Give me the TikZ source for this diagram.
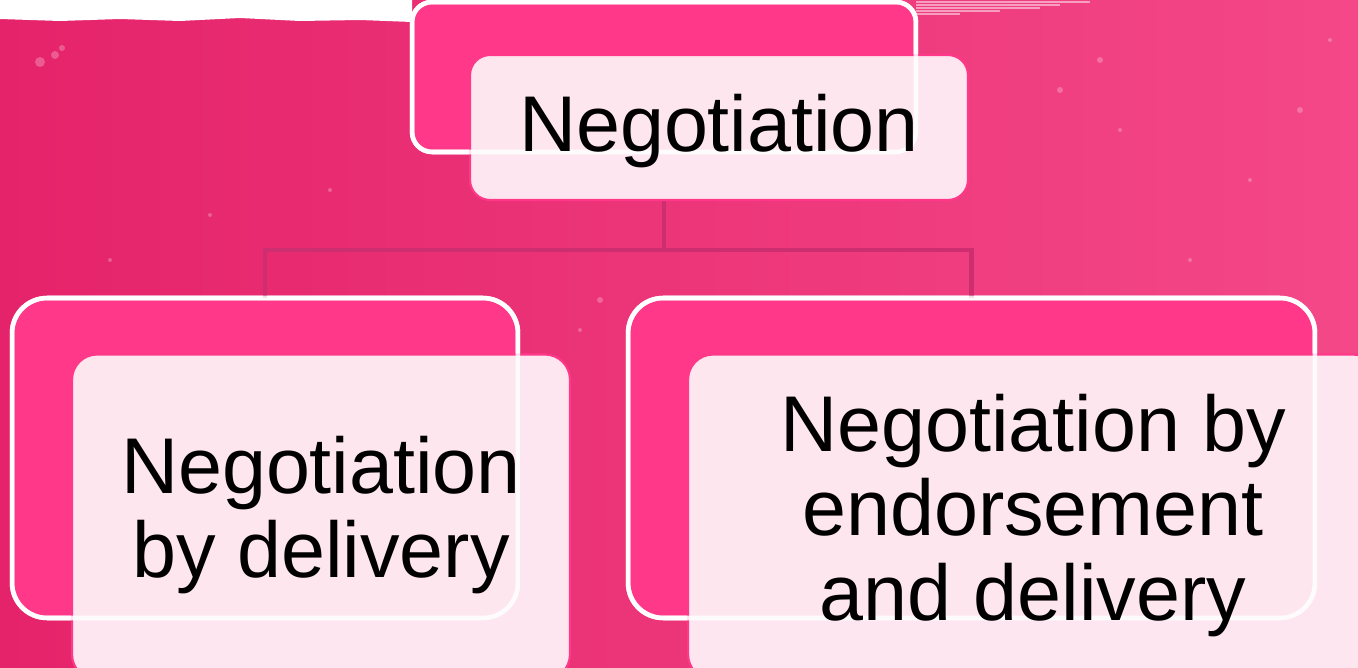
\documentclass[tikz,border=0pt]{standalone}
\usepackage{fontspec}
\setmainfont{Liberation Sans}
\usetikzlibrary{positioning}
\definecolor{bgleft}{RGB}{229, 35, 106}
\definecolor{bgright}{RGB}{244, 72, 136}
\definecolor{hotpink}{RGB}{255, 56, 137}
\definecolor{blush}{RGB}{254, 234, 242}
\definecolor{linkpink}{RGB}{204, 46, 112}
\tikzset{
  backbox/.style={draw=white, line width=2.6pt, fill=hotpink, rounded corners=0.7cm, outer sep=0pt, inner sep=0pt},
  frontbox/.style={draw=hotpink, line width=1.2pt, fill=blush, fill opacity=0.98, rounded corners=0.5cm, outer sep=0pt},
  cardtext/.style={align=center, font=\fontsize{45}{48}\selectfont},
  backline/.style={draw=white, line width=2.6pt, rounded corners=0.7cm},
  link/.style={linkpink, line width=2.4pt}
}

\begin{document}
\begin{tikzpicture}[x=0.02cm, y=-0.02cm]
    % paper background
    \shade[left color=bgleft, right color=bgright] (0,0) rectangle (1358,668);
    \useasboundingbox (0,0) rectangle (1358,668);
    \fill[white] (0,0) -- (412,0) -- (412,22) -- (360,20) -- (300,21) -- (240,18) -- (180,21) -- (120,19) -- (60,21) -- (0,19) -- cycle;
    \foreach \ty/\tx in {2/1090, 5/1060, 8/1040, 11/1000, 14/960}
        \draw[white, opacity=0.5, line width=0.9pt] (916,\ty) -- (\tx,\ty);
    \foreach \sx/\sy/\sr in {40/62/5, 55/55/4, 62/48/3, 210/215/2, 110/260/2, 330/190/2, 540/250/2, 600/300/3, 1060/90/3, 1120/130/2, 1100/60/3, 1250/180/2, 1300/110/3, 1190/260/2, 580/330/2, 1330/40/2}
        \fill[white, opacity=0.25] (\sx,\sy) circle (\sr);

    % back cards
    \node[backbox, minimum width=10.08cm, minimum height=3cm, rounded corners=0.4cm] (rootb) at (664,77) {};
    \node[backbox, minimum width=10.12cm, minimum height=6.4cm] (leftb) at (265,458) {};
    \node[backbox, minimum width=13.74cm, minimum height=6.4cm] (rightb) at (971.5,458) {};

    % tree links
    \coordinate (bus) at (664,250);
    \draw[link] (rootb.south) -- (bus);
    \draw[link] (bus) -| (leftb.north);
    \draw[link] (bus) -| (rightb.north);

    % front cards
    \node[frontbox, minimum width=9.96cm, minimum height=2.9cm, rounded corners=0.4cm] (rootf) at (719,127.5) {};
    \node[frontbox, minimum width=9.96cm, minimum height=6.5cm] (leftf) at (321,517) {};
    \node[frontbox, minimum width=13.8cm, minimum height=6.5cm] (rightf) at (1033,517) {};

    % white rims show through the front cards
    \draw[backline, rounded corners=0.4cm, opacity=0.85] (rootb.south west) rectangle (rootb.north east);
    \draw[backline, opacity=0.85] (leftb.south west) rectangle (leftb.north east);
    \draw[backline, opacity=0.85] (rightb.south west) rectangle (rightb.north east);

    % labels
    \node[cardtext] (roott) at ([yshift=-2pt]rootf.center) {Negotiation};
    \node[cardtext] (leftt) at ([yshift=1pt]leftf.center) {Negotiation\\by delivery};
    \node[cardtext] (rightt) at ([yshift=1pt]rightf.center) {Negotiation by\\endorsement\\and delivery};
\end{tikzpicture}
\end{document}
